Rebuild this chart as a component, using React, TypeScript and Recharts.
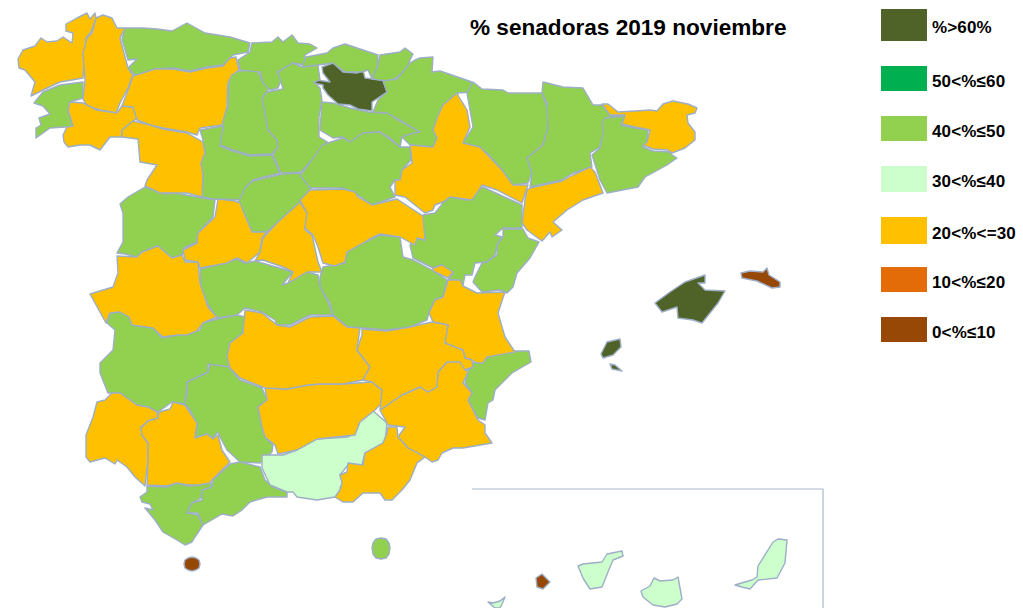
import { Legend, Polygon, Scatter, ScatterChart, XAxis, YAxis } from 'recharts';

// Province outlines, in map units (x east, y south)
const aCoruna = [[18,59],[23,50],[35,46],[41,38],[47,42],[57,41],[63,37],[72,43],[73,33],[66,31],[66,24],[77,18],[87,13],[90,19],[95,13],[96,18],[91,32],[86,38],[83,78],[72,80],[60,82],[43,90],[31,96],[35,82],[25,70],[19,68]];
const pontevedra = [[83,82],[83,98],[70,102],[68,110],[73,127],[65,127],[50,128],[36,138],[36,128],[41,125],[39,118],[50,114],[43,106],[34,103],[43,92],[60,85]];
const lugo = [[96,18],[103,15],[112,18],[117,28],[125,28],[120,38],[128,68],[133,75],[128,88],[120,103],[116,113],[100,110],[87,106],[83,99],[85,80],[83,53],[87,38],[92,33]];
const ourense = [[70,102],[83,103],[97,110],[117,113],[122,106],[133,107],[137,118],[122,130],[122,137],[110,137],[100,150],[90,145],[80,145],[68,147],[64,142],[63,135],[67,127],[73,126],[68,110]];
const asturias = [[125,28],[143,28],[157,29],[172,31],[187,23],[205,33],[230,37],[250,43],[248,52],[233,55],[223,65],[207,67],[190,71],[173,68],[155,69],[143,75],[135,75],[128,68],[137,59],[128,60],[122,39]];
const leon = [[133,76],[155,69],[173,69],[190,72],[207,68],[223,66],[230,58],[236,57],[239,70],[232,75],[228,83],[227,107],[222,125],[200,128],[197,135],[187,132],[163,128],[150,125],[137,120],[133,107],[122,106],[128,90]];
const zamora = [[133,121],[150,125],[163,129],[187,133],[203,142],[205,153],[201,163],[203,175],[202,197],[187,193],[173,193],[160,193],[145,186],[147,180],[157,165],[140,162],[138,139],[122,137],[122,130]];
const palencia = [[229,80],[233,72],[257,69],[263,83],[270,87],[263,97],[265,113],[268,130],[277,140],[278,147],[272,154],[250,155],[233,150],[220,145],[223,127],[222,120],[228,107]];
const valladolid = [[200,130],[222,126],[223,128],[220,146],[233,151],[250,156],[272,155],[280,173],[253,180],[245,188],[243,200],[213,199],[202,197],[203,175],[201,163],[205,153],[203,140]];
const cantabria = [[252,43],[272,42],[278,37],[283,42],[292,35],[298,43],[310,44],[317,48],[305,55],[305,65],[293,63],[277,72],[282,78],[278,88],[270,90],[263,83],[260,72],[240,70],[238,60],[250,52]];
const burgos = [[262,98],[267,92],[283,89],[278,72],[293,63],[302,67],[318,65],[320,80],[314,82],[320,88],[322,100],[319,117],[319,137],[329,143],[315,157],[301,172],[287,173],[281,173],[273,155],[278,147],[277,140],[268,130],[265,113]];
const rioja = [[322,102],[320,130],[333,138],[343,137],[350,142],[363,133],[380,132],[390,138],[400,147],[402,137],[410,135],[420,132],[398,120],[387,113],[368,112],[350,108],[333,103]];
const bizkaia = [[306,57],[327,53],[333,48],[345,44],[357,48],[378,55],[377,68],[372,79],[368,70],[362,72],[345,72],[333,63],[318,65],[302,67]];
const gipuzkoa = [[380,55],[400,52],[405,48],[413,54],[410,60],[407,70],[393,80],[387,81],[372,79],[377,68]];
const alava = [[322,67],[333,63],[343,72],[357,73],[363,70],[365,78],[383,80],[387,92],[378,98],[372,102],[372,111],[358,109],[350,105],[338,104],[328,95],[323,88],[323,85],[313,83],[317,80],[330,82],[323,73]];
const navarra = [[383,81],[397,79],[410,63],[415,60],[420,58],[433,57],[432,72],[440,71],[472,82],[470,92],[458,93],[443,105],[437,120],[433,130],[437,138],[433,147],[410,145],[402,137],[410,134],[420,132],[400,120],[387,113],[373,112],[378,100],[387,92]];
const zaragoza = [[457,93],[443,105],[437,118],[433,130],[437,138],[433,147],[410,145],[412,163],[402,170],[400,180],[395,180],[395,195],[405,197],[425,213],[433,210],[435,205],[443,202],[450,197],[472,200],[477,193],[482,185],[497,190],[522,203],[528,185],[513,185],[502,170],[480,147],[463,143],[470,127],[467,110],[459,97]];
const huesca = [[473,82],[482,89],[503,90],[508,93],[542,93],[548,110],[548,128],[543,145],[527,158],[532,173],[528,183],[513,185],[502,170],[487,153],[470,145],[463,143],[473,127],[467,93]];
const lleida = [[543,82],[563,87],[583,88],[593,105],[602,105],[610,115],[623,116],[605,118],[605,127],[600,147],[590,153],[592,167],[573,173],[562,180],[530,187],[532,173],[527,158],[543,145],[548,128],[547,103],[542,93]];
const girona = [[602,104],[608,104],[618,112],[635,111],[650,110],[657,111],[663,104],[673,101],[688,104],[697,108],[695,113],[687,115],[688,123],[695,132],[695,140],[685,148],[672,153],[668,150],[653,149],[643,145],[647,142],[650,130],[635,127],[622,124],[625,115],[610,115]];
const barcelona = [[605,118],[625,116],[621,125],[635,128],[648,130],[647,142],[643,147],[653,151],[670,152],[672,155],[677,158],[667,165],[645,177],[638,187],[607,193],[600,180],[592,155],[600,148],[603,133],[602,123]];
const tarragona = [[530,188],[562,181],[573,175],[590,167],[595,172],[603,193],[583,200],[567,210],[553,222],[562,230],[552,237],[550,232],[542,241],[527,230],[522,223],[525,200],[527,190]];
const teruel = [[423,215],[435,213],[443,203],[450,197],[467,200],[473,192],[483,187],[500,195],[522,205],[522,228],[503,228],[495,235],[502,237],[497,245],[495,255],[487,262],[475,263],[472,275],[465,275],[463,285],[457,280],[448,280],[453,273],[442,265],[433,268],[413,258],[410,245],[415,238],[425,240],[423,223]];
const ademuz = [[433,268],[442,265],[453,272],[448,278],[433,271]];
const castellon = [[503,229],[523,229],[528,238],[539,242],[530,258],[517,273],[513,287],[507,293],[500,290],[482,292],[473,282],[475,277],[482,263],[487,262],[497,255],[497,245],[503,237]];
const valencia = [[447,284],[448,280],[460,280],[463,286],[477,293],[505,292],[498,313],[505,337],[515,352],[487,357],[483,363],[477,363],[472,360],[465,358],[463,350],[447,347],[445,340],[448,325],[433,322],[429,313],[435,300],[443,297]];
const alicante = [[477,362],[485,355],[507,351],[529,351],[531,362],[512,373],[495,390],[493,400],[488,403],[485,420],[478,418],[468,400],[472,393],[465,383],[468,372],[472,363]];
const murcia = [[380,410],[402,395],[420,387],[428,392],[437,387],[438,372],[447,362],[458,360],[467,363],[472,368],[466,370],[468,372],[463,383],[472,393],[468,400],[478,420],[485,425],[485,433],[492,443],[463,448],[453,448],[442,453],[438,460],[432,462],[425,457],[408,448],[398,437],[405,427],[388,425]];
const almeria = [[388,427],[397,427],[398,437],[408,448],[425,457],[417,463],[410,480],[402,490],[392,500],[385,500],[380,493],[363,493],[353,502],[343,502],[335,497],[340,490],[342,483],[340,475],[347,472],[348,463],[363,465],[365,453],[383,443],[387,433]];
const granada = [[262,455],[283,455],[297,450],[317,439],[348,437],[355,433],[358,422],[372,410],[387,423],[385,442],[365,453],[362,465],[348,465],[340,475],[343,482],[340,488],[342,493],[335,497],[317,500],[297,497],[293,492],[287,492],[270,485],[262,468]];
const jaen = [[265,388],[287,389],[308,385],[320,384],[343,384],[372,382],[382,390],[385,400],[375,410],[360,422],[355,435],[317,439],[297,450],[278,454],[275,445],[265,437],[262,427],[258,407],[267,400]];
const cordoba = [[187,382],[208,372],[210,364],[227,365],[240,380],[262,388],[267,400],[258,407],[262,427],[265,437],[273,445],[272,452],[260,463],[240,462],[227,450],[220,437],[218,432],[213,438],[207,434],[196,439],[197,425],[190,410],[185,404],[187,393]];
const badajoz = [[107,323],[110,313],[120,312],[130,317],[132,325],[153,328],[162,338],[177,335],[200,330],[203,323],[217,319],[237,315],[245,317],[243,333],[230,343],[228,357],[230,367],[208,364],[208,372],[187,382],[185,404],[172,402],[158,412],[148,407],[137,405],[127,398],[120,393],[108,393],[100,373],[100,363],[113,350],[115,330]];
const huelva = [[112,393],[120,393],[127,398],[137,405],[148,407],[157,412],[158,418],[148,421],[141,427],[142,435],[148,443],[148,460],[145,486],[135,477],[127,467],[117,460],[115,464],[105,458],[90,462],[86,457],[86,435],[93,417],[97,402],[105,400]];
const sevilla = [[141,428],[148,421],[158,418],[159,412],[170,409],[173,402],[185,405],[197,423],[195,438],[207,434],[213,439],[218,435],[222,450],[230,462],[212,480],[210,483],[198,485],[188,485],[177,483],[167,486],[147,485],[148,460],[148,443],[142,435]];
const cadiz = [[147,486],[167,487],[177,483],[188,486],[198,485],[211,483],[212,488],[202,492],[201,498],[192,503],[187,513],[198,515],[203,525],[195,537],[192,542],[185,545],[177,540],[163,532],[155,520],[145,508],[153,510],[150,504],[142,502],[140,497],[147,492]];
const malaga = [[230,464],[240,462],[260,467],[265,480],[273,487],[287,492],[287,497],[267,497],[250,502],[242,510],[233,516],[222,514],[203,525],[198,513],[187,513],[192,503],[202,500],[202,490],[212,487],[213,480]];
const caceres = [[117,256],[137,257],[142,252],[158,246],[172,258],[182,255],[185,262],[198,262],[200,283],[208,307],[217,317],[203,323],[197,331],[187,335],[177,335],[163,337],[153,328],[132,325],[129,317],[120,312],[110,313],[106,323],[90,294],[113,287],[118,273]];
const salamanca = [[145,187],[165,194],[175,193],[203,198],[215,200],[213,217],[198,233],[197,242],[184,248],[182,255],[172,258],[158,246],[142,252],[137,257],[125,254],[117,253],[123,242],[123,213],[120,204],[128,197]];
const avila = [[218,199],[235,201],[240,203],[252,232],[267,232],[262,238],[260,252],[247,263],[237,258],[227,263],[217,265],[200,268],[198,262],[185,260],[183,250],[197,243],[198,233],[215,217]];
const madrid = [[300,202],[307,213],[305,230],[312,235],[318,262],[322,272],[307,272],[288,283],[293,272],[283,267],[263,260],[255,261],[260,252],[263,238],[277,223]];
const segovia = [[245,188],[253,181],[282,174],[300,173],[310,186],[311,188],[300,202],[277,223],[267,232],[252,232],[243,210],[238,203]];
const soria = [[302,173],[317,153],[322,145],[343,138],[350,142],[363,133],[380,132],[400,147],[410,147],[411,160],[402,170],[402,180],[395,180],[390,187],[395,197],[372,205],[355,193],[342,188],[310,188],[300,175]];
const guadalajara = [[300,200],[310,190],[343,189],[355,192],[358,197],[372,205],[397,199],[403,203],[423,216],[425,240],[417,238],[415,245],[400,237],[380,234],[368,240],[363,243],[347,252],[345,262],[335,266],[323,263],[318,247],[313,235],[305,228],[307,213]];
const cuenca = [[323,267],[345,263],[347,252],[363,243],[380,235],[400,237],[403,257],[413,260],[432,270],[447,280],[443,297],[435,300],[429,312],[427,320],[410,327],[387,330],[363,328],[348,327],[333,315],[330,303],[320,287],[320,277]];
const toledo = [[200,269],[217,265],[237,259],[245,263],[255,261],[283,269],[293,272],[282,285],[288,283],[307,272],[318,275],[320,287],[328,302],[333,315],[310,315],[290,325],[277,325],[275,320],[262,312],[245,308],[237,315],[217,318],[208,305],[201,287]];
const ciudadReal = [[245,310],[262,313],[277,325],[290,327],[310,317],[333,316],[347,327],[360,328],[357,350],[370,367],[363,380],[343,384],[320,384],[308,385],[287,389],[265,388],[240,378],[230,368],[227,357],[230,343],[243,333]];
const albacete = [[362,329],[387,331],[410,327],[432,322],[448,325],[445,343],[463,350],[465,358],[472,360],[473,367],[465,370],[460,362],[447,362],[438,372],[437,387],[428,392],[420,387],[402,395],[380,410],[382,390],[372,382],[363,380],[370,367],[357,350],[362,335]];
const mallorca = [[655,303],[670,292],[685,282],[705,275],[705,283],[698,283],[705,290],[725,291],[718,303],[702,323],[693,320],[678,318],[677,307],[662,312]];
const menorca = [[741,273],[750,271],[763,272],[767,268],[769,275],[780,282],[780,287],[772,288],[757,281],[742,278]];
const ibiza = [[601,354],[607,342],[620,339],[621,347],[613,355],[603,358]];
const formentera = [[610,364],[615,365],[622,371],[612,369]];
const ceuta = [[184,564],[185,560],[188,558],[192,557],[196,558],[199,560],[200,564],[199,568],[196,570],[192,571],[188,570],[185,568]];
const melilla = [[372,548],[373,543],[376,539],[381,538],[386,539],[389,543],[390,548],[389,554],[386,558],[381,559],[376,558],[373,554]];
const fuerteventura = [[735,585],[745,582],[752,580],[757,577],[758,566],[773,542],[778,539],[787,540],[785,563],[777,578],[758,580],[750,589],[742,587]];
const tenerife = [[578,566],[583,564],[602,562],[607,554],[622,551],[623,556],[613,560],[608,572],[602,587],[590,589],[583,578]];
const granCanaria = [[641,591],[650,586],[654,578],[660,581],[673,580],[678,577],[682,599],[677,604],[665,607],[653,605],[643,597]];
const gomera = [[536,578],[542,574],[550,582],[543,589],[537,587]];
const laPalma = [[488,602],[493,603],[500,601],[505,597],[502,604],[500,608],[495,608]];
const canaryFrame = [[472,489],[823,489],[823,608]];

// Provinces per class of the legend
const over60 = [alava, mallorca, ibiza, formentera];
const from50to60: number[][][] = [];
const from40to50 = [pontevedra, asturias, palencia, valladolid, cantabria, burgos, rioja, bizkaia, gipuzkoa, navarra, huesca, lleida, barcelona, teruel, castellon, alicante, cordoba, badajoz, cadiz, malaga, salamanca, segovia, soria, cuenca, toledo, melilla];
const from30to40 = [granada, fuerteventura, tenerife, granCanaria, laPalma];
const from20to30 = [aCoruna, lugo, ourense, leon, zamora, zaragoza, girona, tarragona, ademuz, valencia, murcia, almeria, jaen, huelva, sevilla, caceres, avila, madrid, guadalajara, ciudadReal, albacete];
const from10to20: number[][][] = [];
const under10 = [menorca, ceuta, gomera];

const CLASS_LABELS = ['%>60%', '50<%≤60', '40<%≤50', '30<%≤40', '20<%<=30', '10<%≤20', '0<%≤10'];
const CLASS_COLORS = ['#4F6228', '#00B050', '#92D050', '#CCFFCC', '#FFC000', '#E36C09', '#974706'];
const CLASS_SHAPES = [over60, from50to60, from40to50, from30to40, from20to30, from10to20, under10];

// Swatch boxes of the legend: top edge and height
const SWATCH_TOPS = [9, 66, 116, 166, 217, 267, 317];
const SWATCH_HEIGHTS = [32, 25, 25, 26, 27, 25, 25];

const BORDER = '#9DAEC6';
const toPoints = (outline: number[][]) => outline.map(([x, y]) => ({ x, y }));

const NoDot = () => <g />;

const ClassLegend = () => (
  <div style={{ position: 'absolute', left: 881, top: 0 }}>
    {CLASS_LABELS.map((label, i) => (
      <div
        key={label}
        style={{
          position: 'absolute',
          left: 0,
          top: SWATCH_TOPS[i],
          width: 142,
          height: SWATCH_HEIGHTS[i],
          display: 'flex',
          alignItems: 'center',
        }}
      >
        <div style={{ width: 46, height: '100%', background: CLASS_COLORS[i] }} />
        <span
          style={{
            marginLeft: 5,
            paddingTop: 6,
            fontFamily: '"Liberation Sans", Arial, sans-serif',
            fontWeight: 700,
            fontSize: 17,
            letterSpacing: '0.15px',
            color: '#000',
            whiteSpace: 'nowrap',
          }}
        >
          {label}
        </span>
      </div>
    ))}
  </div>
);

export default function App() {
  return (
    <div style={{ position: 'absolute', left: 0, top: 0, width: 1023, height: 608, overflow: 'hidden' }}>
      <ScatterChart width={1023} height={608} margin={{ top: 0, right: 0, bottom: 0, left: 0 }}>
        <XAxis type="number" dataKey="x" domain={[0, 1023]} hide />
        <YAxis type="number" dataKey="y" domain={[0, 608]} reversed hide />
        <text
          x={470}
          y={35}
          fontFamily='"Liberation Sans", Arial, sans-serif'
          fontWeight={700}
          fontSize={22.6}
          fill="#000"
        >
          % senadoras 2019 noviembre
        </text>
        {CLASS_SHAPES.map((shapes, c) =>
          shapes.map((outline, i) => (
            <Scatter
              key={`${c}-${i}`}
              data={toPoints(outline)}
              isAnimationActive={false}
              shape={NoDot}
              line={(p: any) => (
                <Polygon points={p.points} fill={CLASS_COLORS[c]} stroke={BORDER} strokeWidth={1.4} strokeLinejoin="round" />
              )}
            />
          ))
        )}
        <Scatter
          data={toPoints(canaryFrame)}
          isAnimationActive={false}
          shape={NoDot}
          line={{ stroke: '#A9B8CE', strokeWidth: 1.2 }}
        />
        <Legend content={<ClassLegend />} wrapperStyle={{ left: 0, top: 0, width: 0, height: 0 }} />
      </ScatterChart>
    </div>
  );
}
